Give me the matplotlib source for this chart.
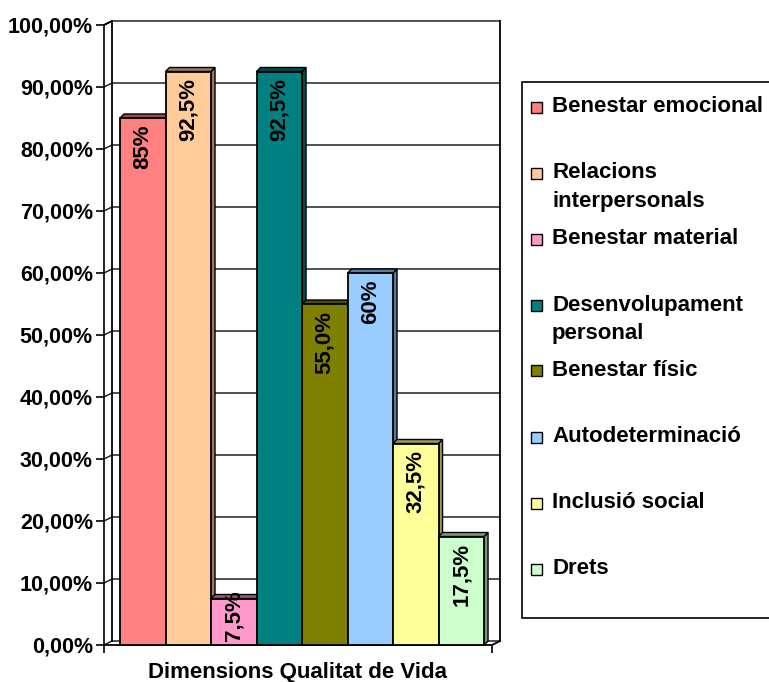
import numpy as np
import matplotlib.pyplot as plt
from matplotlib.patches import Polygon, Rectangle
from matplotlib.colors import to_rgb

plt.rcParams['font.family'] = ['Liberation Sans', 'DejaVu Sans']
plt.rcParams['font.weight'] = 'bold'

categories = ['Benestar emocional', 'Relacions\ninterpersonals', 'Benestar material',
              'Desenvolupament\npersonal', 'Benestar físic', 'Autodeterminació',
              'Inclusió social', 'Drets']
values = [85, 92.5, 7.5, 92.5, 55, 60, 32.5, 17.5]
value_labels = ['85%', '92,5%', '7,5%', '92,5%', '55,0%', '60%', '32,5%', '17,5%']
colors = ['#FF8080', '#FFCC99', '#FF99CC', '#008080', '#808000', '#99CCFF', '#FFFF99', '#CCFFCC']
yticks = np.arange(0, 101, 10)
ytick_labels = ['%d,00%%' % t for t in yticks]
xlabel = 'Dimensions Qualitat de Vida'

W, H = 769, 682
fig = plt.figure(figsize=(W / 100, H / 100), dpi=100)
ax = fig.add_axes([104 / W, 37 / H, 388 / W, 620 / H])

x0, x1 = -0.852, 7.675
ax.set_xlim(x0, x1)
ax.set_ylim(0, 100)
ux = (x1 - x0) / 388.0   # data units per pixel
uy = 100 / 620.0

# wall depth and bar depth offsets
wdx, wdy = 8 * ux, 4 * uy
bdx, bdy = 4 * ux, 4 * uy

for s in ['top', 'right', 'bottom']:
    ax.spines[s].set_visible(False)
ax.spines['left'].set_linewidth(1.2)

# back wall, left wall, floor
grid_kw = dict(color='#222222', lw=1.1, zorder=1, clip_on=False)
for t in yticks:
    ax.plot([x0 + wdx, x1 + wdx], [t + wdy, t + wdy], **grid_kw)
    ax.plot([x0, x0 + wdx], [t, t + wdy], **grid_kw)
edge_kw = dict(color='black', lw=1.3, zorder=1, clip_on=False)
ax.plot([x0 + wdx, x0 + wdx], [wdy, 100 + wdy], **edge_kw)
ax.plot([x1 + wdx, x1 + wdx], [wdy, 100 + wdy], **edge_kw)
ax.plot([x0, x0 + wdx], [100, 100 + wdy], **edge_kw)
ax.plot([x1, x1 + wdx], [0, wdy], **edge_kw)
ax.plot([x0, x1], [0, 0], color='black', lw=1.3, zorder=2, clip_on=False)

# bars with a shallow 3D look
w = 1.0
for i, (v, c) in enumerate(zip(values, colors)):
    dark = tuple(ch * 0.6 for ch in to_rgb(c))
    l, r = i - w / 2, i + w / 2
    z = 3 + i
    ax.add_patch(Polygon([(r, 0), (r + bdx, bdy), (r + bdx, v + bdy), (r, v)],
                         closed=True, fc=dark, ec='black', lw=1.0, zorder=z, clip_on=False))
    ax.add_patch(Polygon([(l, v), (r, v), (r + bdx, v + bdy), (l + bdx, v + bdy)],
                         closed=True, fc=dark, ec='black', lw=1.0, zorder=z, clip_on=False))
    ax.add_patch(Rectangle((l, 0), w, v, fc=c, ec='black', lw=1.3, zorder=z, clip_on=False))

for i, (v, lab) in enumerate(zip(values, value_labels)):
    if v < 12:
        ax.text(i, 0.6, lab, rotation=90, ha='center', va='bottom',
                fontsize=16, fontweight='bold', zorder=20)
    else:
        ax.text(i, v - 1.1, lab, rotation=90, ha='center', va='top',
                fontsize=16, fontweight='bold', zorder=20)

ax.set_yticks(yticks)
ax.set_yticklabels(ytick_labels, fontsize=15.5, fontweight='bold')
ax.tick_params(axis='y', direction='out', length=6, width=1.2, pad=2)
ax.set_xticks([])
ax.set_xticks([x0, x1], minor=True)
ax.tick_params(axis='x', which='minor', direction='out', length=6, width=1.2)
ax.text(0.5, -0.045, xlabel, transform=ax.transAxes, ha='center', va='center',
        fontsize=16, fontweight='bold')

# legend box drawn in pixel coordinates
def fx(px):
    return px / W


def fy(py):
    return 1 - py / H


fig.patches.append(Rectangle((fx(522), fy(618)), fx(775) - fx(522), fy(82) - fy(618),
                             transform=fig.transFigure, fc='white', ec='black', lw=1.2))
for k, (name, c) in enumerate(zip(categories, colors)):
    yc = 107 + 66 * k
    fig.patches.append(Rectangle((fx(531), fy(yc + 5.5)), fx(11), 11 / H,
                                 transform=fig.transFigure, fc=c, ec='black', lw=1.0))
    for j, line in enumerate(name.split('\n')):
        fig.text(fx(552), fy(yc + 28 * j), line, ha='left', va='center',
                 fontsize=16, fontweight='bold')

fig.savefig('out.png', dpi=100)
